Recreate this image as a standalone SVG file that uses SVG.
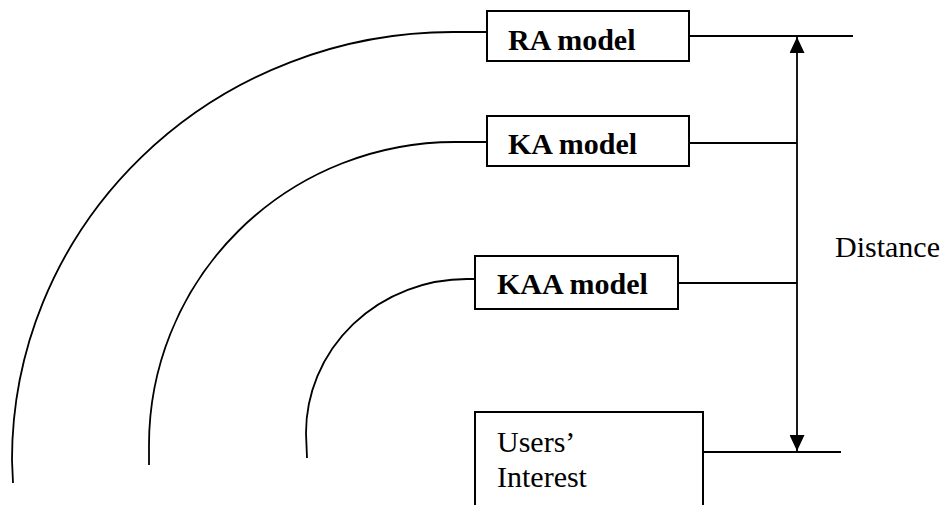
<svg xmlns="http://www.w3.org/2000/svg" width="945" height="505" viewBox="0 0 945 505">
<style>
.box{fill:#fff;stroke:#000;stroke-width:2}
.ln{fill:none;stroke:#000;stroke-width:1.8}
.b{font-family:"Liberation Serif",serif;font-weight:bold;font-size:30px;fill:#000}
.r{font-family:"Liberation Serif",serif;font-size:30px;fill:#000}
</style>
<defs>
<marker id="ah" viewBox="0 0 16 15" refX="16" refY="7.5" markerWidth="16" markerHeight="15" markerUnits="userSpaceOnUse" orient="auto-start-reverse">
<path d="M0,0 L16,7.5 L0,15 Z" fill="#000"/>
</marker>
</defs>
<rect width="945" height="505" fill="#fff"/>
<g id="connectors">
<path class="ln" d="M487,32 L453,32 A441 428 0 0 0 12,460 L13,483"/>
<path class="ln" d="M487,142 L455,142 A306 303 0 0 0 149,445 L149,465"/>
<path class="ln" d="M475,279 L467,279 A161 154 0 0 0 306,433 L307,458"/>
<line class="ln" x1="689" y1="36" x2="853" y2="36"/>
<line class="ln" x1="689" y1="143" x2="797" y2="143"/>
<line class="ln" x1="678" y1="283" x2="797" y2="283"/>
<line class="ln" x1="703" y1="452" x2="841" y2="452"/>
<line class="ln" x1="797" y1="37" x2="797" y2="451" marker-start="url(#ah)" marker-end="url(#ah)"/>
</g>
<g id="ra">
<rect class="box" x="487" y="11" width="202" height="50"/>
<text class="b" x="508" y="50">RA model</text>
</g>
<g id="ka">
<rect class="box" x="487" y="116" width="202" height="50"/>
<text class="b" x="508" y="154">KA model</text>
</g>
<g id="kaa">
<rect class="box" x="475" y="256" width="203" height="53"/>
<text class="b" x="497" y="294">KAA model</text>
</g>
<g id="users">
<rect class="box" x="475" y="412" width="228" height="110"/>
<text class="r" x="497" y="452">Users’</text>
<text class="r" x="497" y="487">Interest</text>
</g>
<g id="distance">
<text class="r" x="835" y="257">Distance</text>
</g>
</svg>
